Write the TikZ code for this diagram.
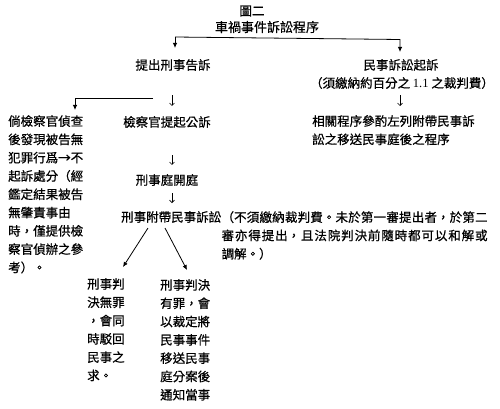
\documentclass[tikz,border=0pt]{standalone}
\usepackage{fontspec}
\setmainfont{Noto Sans CJK TC}[FakeBold=0.6]
\newfontfamily\latserif{Liberation Serif}
\usetikzlibrary{arrows.meta}
\XeTeXlinebreaklocale "zh"
\XeTeXlinebreakskip=0pt plus 2pt
\begin{document}
\begin{tikzpicture}[x=1pt,y=-1pt,
  txt/.style={inner sep=0pt, font=\fontsize{12.5}{18.3}\selectfont},
  blk/.style={txt, align=left, anchor=north west},
  arr/.style={line width=0.8pt, -{Latex[length=5pt,width=4.5pt]}},
  tarr/.style={line width=0.6pt, -{Straight Barb[length=2.5pt,width=5pt]}},
]
\fill[white] (0,0) rectangle (500,409);
\useasboundingbox (0,0) rectangle (500,409);
% top
\node[txt] (fig) at (252,11) {圖二};
\node[txt, font=\fontsize{13}{16}\selectfont] (title) at (267,27) {車禍事件訴訟程序};
\coordinate (tl) at (175,37);
\coordinate (tr) at (400,39.5);
\node[txt] (crim) at (173,65) {提出刑事告訴};
\node[txt] (civ) at (401,65) {民事訴訟起訴};
\draw[arr, shorten >=7pt] (tl) -- (tr) -- (tr |- civ.north);
\draw[arr, shorten >=11pt] (tl) -- (tl |- crim.north);
% right column
\node[txt] (fee) at (402,83) {（須繳納約百分之 {\latserif 1.1} 之裁判費）};
\node[blk] (rel) at (312,115) {相關程序參酌左列附帶民事訴\\訟之移送民事庭後之程序};
\coordinate (bx) at (400,0);
\draw[tarr, shorten <=6pt, shorten >=9pt] (bx |- fee.south) -- (bx |- rel.north);
% left column
\node[txt] (pros) at (167,122) {檢察官提起公訴};
\node[blk] (nocase) at (8,115) {倘檢察官偵查\\後發現被告無\\犯罪行爲→不\\起訴處分（經\\鑑定結果被告\\無肇責事由\\時，僅提供檢\\察官偵辦之參\\考）。};
\coordinate (ax) at (172,0);
\draw[tarr, shorten <=24pt, shorten >=10pt] (ax |- crim.south) -- (ax |- pros.north);
\coordinate (lb) at (153,98);
\coordinate (lc) at (75,98);
\draw[arr, shorten >=5pt] (lb) -- (lc) -- (lc |- nocase.north);
\node[txt] (court) at (167,180) {刑事庭開庭};
\draw[tarr, shorten <=27pt, shorten >=9pt] (ax |- pros.south) -- (ax |- court.north);
\node[txt, anchor=west] (fudai) at (121,217) {刑事附帶民事訴訟};
\draw[tarr, shorten <=7pt, shorten >=8pt] (ax |- court.south) -- (ax |- fudai.north);
\node[blk, text width=266pt, align=justify] (note) at (fudai.north east) {（不須繳納裁判費。未於第一審提出者，於第二\linebreak 審亦得提出，且法院判決前隨時都可以和解或\linebreak 調解。）};
% bottom
\node[blk] (acquit) at (87,278) {刑事判\\決無罪\\，會同\\時駁回\\民事之\\求。};
\node[blk] (guilty) at (160,279) {刑事判決\\有罪，會\\以裁定將\\民事事件\\移送民事\\庭分案後\\通知當事};
\coordinate (s1) at (148,228);
\coordinate (t1) at (123,267);
\coordinate (s2) at (165,228);
\coordinate (t2) at (187,270);
\draw[arr] (s1) -- (t1);
\draw[arr] (s2) -- (t2);
\end{tikzpicture}
\end{document}
